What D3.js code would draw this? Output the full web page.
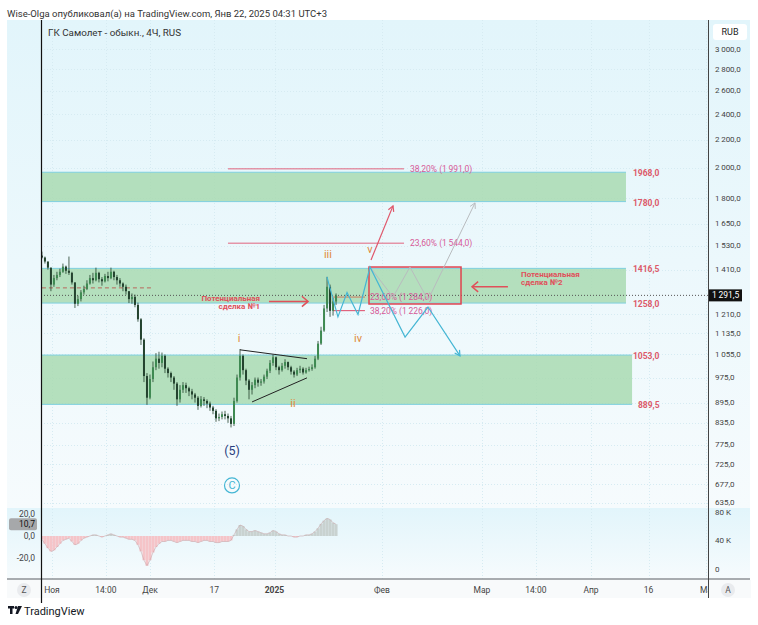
<!DOCTYPE html>
<html>
<head>
<meta charset="utf-8">
<script src="https://cdn.jsdelivr.net/npm/d3@7"></script>
<style>
body { margin: 0; background: #fff; }
text { font-family: Roboto, "Liberation Sans", sans-serif; }
</style>
</head>
<body>
<svg id="chart" width="758" height="625"></svg>
<script>
// candles (4H); open = previous close
var firstOpen = 1480;
var closes = [1470,1450,1420,1340,1370,1385,1400,1425,1405,1395,
  1350,1255,1275,1305,1320,1345,1370,1360,1395,1365,
  1355,1380,1370,1400,1375,1360,1345,1330,1310,1275,
  1285,1250,1190,1110,980,910,970,1010,1040,1025,
  1050,1005,990,975,955,905,935,950,940,930,
  920,910,885,905,900,892,880,870,848,852,
  860,855,848,832,900,975,1050,1000,965,935,
  950,968,958,962,978,998,1025,1045,1010,1000,
  1015,1028,1010,995,985,1000,1005,992,1000,1004,
  1010,1040,1095,1145,1235,1330,1225,1265,1291.5];
var highs = [1500,1475,1450,1420,1385,1400,1415,1440,1430,1475,
  1400,1350,1290,1315,1335,1360,1385,1395,1420,1400,
  1375,1390,1400,1420,1405,1385,1370,1350,1340,1310,
  1300,1295,1260,1195,1115,990,985,1030,1060,1065,
  1062,1055,1010,995,980,960,950,960,958,945,
  938,925,915,915,912,905,898,885,875,862,
  868,870,862,855,910,985,1075,1055,1005,970,
  960,975,975,970,985,1005,1035,1054,1048,1015,
  1025,1038,1030,1015,1000,1008,1015,1010,1008,1012,
  1020,1050,1105,1160,1250,1376,1340,1280,1300];
var lows = [1465,1440,1410,1310,1330,1360,1375,1395,1390,1385,
  1340,1237,1245,1265,1295,1315,1340,1345,1355,1350,
  1335,1350,1355,1365,1360,1340,1330,1310,1295,1258,
  1255,1240,1180,1090,960,888,905,960,1000,1005,
  1010,990,975,960,935,885,895,925,925,915,
  905,895,873,880,885,878,870,860,838,840,
  845,845,835,822,826,895,965,985,950,905,
  920,940,945,948,955,970,990,1015,1000,985,
  995,1005,1000,985,975,980,990,985,988,995,
  998,1005,1035,1090,1140,1220,1200,1205,1250];
var oscValues = [-3,-7,-11,-14,-13,-10,-7,-4,-3,-2,
  -5,-8,-7,-4,-2,-1,0,1,1,0,
  -1,0,1,2,1,0,-1,-1,-2,-3,
  -3,-4,-8,-14,-22,-27,-22,-15,-10,-7,
  -5,-5,-4,-4,-5,-6,-5,-4,-4,-4,
  -5,-5,-6,-5,-4,-4,-5,-5,-6,-6,
  -5,-5,-5,-4,1,6,10,9,6,4,
  4,5,4,3,2,2,3,5,4,2,
  1,1,0,0,-1,-1,0,0,1,1,
  2,4,7,11,14,16,15,12,10.7];
var firstCandle = new Date(2024, 9, 28, 22);
var lastCandle = new Date(2025, 0, 18, 18);
var lastPrice = 1291.5;

var priceTicks = [3000,2800,2600,2400,2200,2000,1800,1650,1530,1410,1210,1135,1055,975,895,835,775,725,677,635];
var oscTicks = [20, 0, -20];
var volTicks = [0, 40000, 80000];
var volLabels = ["0", "40 K", "80 K"];
var monthStarts = [new Date(2024,10,1), new Date(2024,11,1), new Date(2025,0,1), new Date(2025,1,1),
  new Date(2025,2,1), new Date(2025,3,1), new Date(2025,4,1)];
var timeTickDates = [new Date(2024,10,1), new Date(2024,10,17,12), new Date(2024,11,1), new Date(2024,11,17),
  new Date(2025,0,1), new Date(2025,1,1), new Date(2025,2,1), new Date(2025,2,16,8),
  new Date(2025,3,1), new Date(2025,3,16), new Date(2025,4,1)];
var timeTickLabels = ["Ноя","14:00","Дек","17","2025","Фев","Мар","14:00","Апр","16","Ма"];

// support / resistance zones
var zoneTop = [1968, 1416.5, 1053];
var zoneBottom = [1780, 1258, 889.5];
var zoneEnd = [new Date(2025,3,10,3), new Date(2025,3,10,3), new Date(2025,3,11,17)];

// fib levels
var fibLongLevels = [1991, 1544];
var fibLongPct = ["38,20%", "23,60%"];
var fibLongFrom = new Date(2024,11,20,10), fibLongTo = new Date(2025,1,7,4);
var fibShortLevels = [1284, 1226];
var fibShortPct = ["23,60%", "38,20%"];
var fibShortFrom = new Date(2025,0,17,21), fibShortTo = new Date(2025,0,27,2);

// drawings
var boxFrom = new Date(2025,0,28,6), boxTo = new Date(2025,1,23,3), boxHi = 1423, boxLo = 1254;
var triangleUpper = [[new Date(2024,11,23,10), 1072], [new Date(2025,0,10,9), 1040]];
var triangleLower = [[new Date(2024,11,26,10), 897], [new Date(2025,0,10,9), 974]];
var cyanPath = [[new Date(2025,0,16,3),1376],[new Date(2025,0,19,7),1200],[new Date(2025,0,21,22),1304],
  [new Date(2025,0,25,2),1210],[new Date(2025,0,28,13),1423],[new Date(2025,1,7,11),1120],
  [new Date(2025,1,13,21),1241],[new Date(2025,1,22,20),1050]];
var grayPath = [[new Date(2025,0,28,13),1423],[new Date(2025,1,4,2),1284],[new Date(2025,1,8,20),1423],
  [new Date(2025,1,13,21),1271],[new Date(2025,1,27,1),1772]];
var redArrow = [[new Date(2025,0,28,20),1458],[new Date(2025,1,4,2),1754]];
var dealArrow1 = [[new Date(2024,11,30,15),1265],[new Date(2025,0,10,16),1265]];
var dealArrow2 = [[new Date(2025,2,8,9),1330],[new Date(2025,1,26,5),1330]];
var dashedLine = [[firstCandle,1325],[new Date(2024,11,1,12),1325]];
var waveLabels = ["i","ii","iii","iv","v"];
var waveLabelPos = [[new Date(2024,11,23,4),1116],[new Date(2025,0,6,8),894],[new Date(2025,0,16,10),1488],
  [new Date(2025,0,25,2),1116],[new Date(2025,0,28,13),1512]];

var svg = d3.select("#chart");
var padL = 41, padR = 708, padT = 20, mainBottom = 508, oscBottom = 579, axisBottom = 598;

var x = d3.scaleTime().domain(monthStarts).range([52,150,274.5,382,482,591,706]);
var xBar = d3.scaleLinear().domain([0, closes.length - 1]).range([x(firstCandle), x(lastCandle)]);
var y = d3.scaleLog().domain([624, 3313]).range([mainBottom, padT]);
var yOsc = d3.scaleLinear().domain([-20, 20]).range([558, 514]);
var yVol = d3.scaleLinear().domain([0, 80000]).range([568, 511]);

var loc = d3.formatLocale({decimal: ",", thousands: "\u2009", grouping: [3], currency: ["", ""]});
var fmtAxis = loc.format(",.1f");
var fmtPlain = function (v) { return v.toFixed(1).replace(".", ","); };

var defs = svg.append("defs");
var grad = defs.append("linearGradient").attr("id", "paneBg").attr("x1", 0).attr("y1", 0).attr("x2", 0).attr("y2", 1);
grad.append("stop").attr("offset", "0%").attr("stop-color", "#e2f5fb");
grad.append("stop").attr("offset", "100%").attr("stop-color", "#f6fbfd");
defs.append("clipPath").attr("id", "mainClip").append("rect")
	.attr("x", padL).attr("y", padT).attr("width", padR - padL).attr("height", mainBottom - padT);
defs.append("clipPath").attr("id", "oscClip").append("rect")
	.attr("x", padL).attr("y", mainBottom).attr("width", padR - padL).attr("height", oscBottom - mainBottom);

// header
svg.append("text").attr("x", 7).attr("y", 16.5).attr("font-size", 9.5).attr("fill", "#333")
	.text("Wise-Olga опубликовал(а) на TradingView.com, Янв 22, 2025 04:31 UTC+3");

// backgrounds
svg.append("rect").attr("x", 7).attr("y", padT).attr("width", 743).attr("height", mainBottom - padT).attr("fill", "url(#paneBg)");
svg.append("rect").attr("x", 7).attr("y", mainBottom).attr("width", 743).attr("height", oscBottom - mainBottom).attr("fill", "url(#paneBg)");
svg.append("rect").attr("x", 7).attr("y", oscBottom).attr("width", 743).attr("height", axisBottom - oscBottom).attr("fill", "#f8fafb");

// faint grid
var grid = svg.append("g").attr("stroke", "#d6ebf2").attr("stroke-width", 1).attr("stroke-dasharray", "1,2");
grid.selectAll("line.h").data(priceTicks).enter().append("line")
	.attr("x1", padL).attr("x2", padR).attr("y1", function (d) { return Math.round(y(d)) + 0.5; }).attr("y2", function (d) { return Math.round(y(d)) + 0.5; });
grid.selectAll("line.v").data(timeTickDates.filter(function (d) { return x(d) < padR; })).enter().append("line")
	.attr("y1", padT).attr("y2", oscBottom).attr("x1", function (d) { return Math.round(x(d)) + 0.5; }).attr("x2", function (d) { return Math.round(x(d)) + 0.5; });

svg.append("text").attr("x", 48).attr("y", 36).attr("font-size", 9.8).attr("fill", "#333")
	.text("ГК Самолет - обыкн., 4Ч, RUS");

var main = svg.append("g").attr("clip-path", "url(#mainClip)");

// zones
zoneTop.forEach(function (hi, i) {
	var x0 = padL, x1 = x(zoneEnd[i]);
	main.append("rect").attr("x", x0).attr("y", y(hi)).attr("width", x1 - x0).attr("height", y(zoneBottom[i]) - y(hi))
		.attr("fill", "#a9dbb2").attr("fill-opacity", 0.85);
	[hi, zoneBottom[i]].forEach(function (p) {
		main.append("line").attr("x1", x0).attr("x2", x1).attr("y1", y(p)).attr("y2", y(p))
			.attr("stroke", "#7fd0df").attr("stroke-width", 1);
	});
});

// dashed line
main.append("line").attr("x1", x(dashedLine[0][0])).attr("x2", x(dashedLine[1][0]))
	.attr("y1", y(dashedLine[0][1])).attr("y2", y(dashedLine[1][1]))
	.attr("stroke", "#b8675c").attr("stroke-width", 1).attr("stroke-dasharray", "4,3");

// current price dotted line
main.append("line").attr("x1", padL).attr("x2", padR).attr("y1", y(lastPrice)).attr("y2", y(lastPrice))
	.attr("stroke", "#555").attr("stroke-width", 1).attr("stroke-dasharray", "1,2");

// fib lines
fibLongLevels.forEach(function (p, i) {
	main.append("line").attr("x1", x(fibLongFrom)).attr("x2", x(fibLongTo)).attr("y1", y(p)).attr("y2", y(p))
		.attr("stroke", "#e0647e").attr("stroke-width", 1);
	main.append("text").attr("x", x(fibLongTo) + 6).attr("y", y(p) + 3).attr("font-size", 8.5).attr("fill", "#d65a98")
		.text(fibLongPct[i] + " (" + fmtAxis(p) + ")");
});
fibShortLevels.forEach(function (p, i) {
	main.append("line").attr("x1", x(fibShortFrom)).attr("x2", x(fibShortTo)).attr("y1", y(p)).attr("y2", y(p))
		.attr("stroke", i === 0 ? "#c98a6e" : "#e0647e").attr("stroke-width", 1.2);
	main.append("text").attr("x", x(fibShortTo) + 5).attr("y", y(p) + 3).attr("font-size", 8.5).attr("fill", "#d65a98")
		.text(fibShortPct[i] + " (" + fmtAxis(p) + ")");
});

// candles
var candles = main.append("g");
closes.forEach(function (c, i) {
	var o = i === 0 ? firstOpen : closes[i - 1];
	var up = c >= o;
	var cx = xBar(i);
	candles.append("line").attr("x1", cx).attr("x2", cx).attr("y1", y(highs[i])).attr("y2", y(lows[i]))
		.attr("stroke", "#23402c").attr("stroke-width", 0.8);
	candles.append("rect").attr("x", cx - 1).attr("width", 2)
		.attr("y", y(Math.max(o, c))).attr("height", Math.max(0.8, Math.abs(y(o) - y(c))))
		.attr("fill", up ? "#3f8a52" : "#24432f");
});

// triangle
[triangleUpper, triangleLower].forEach(function (seg) {
	main.append("line").attr("x1", x(seg[0][0])).attr("y1", y(seg[0][1])).attr("x2", x(seg[1][0])).attr("y2", y(seg[1][1]))
		.attr("stroke", "#222").attr("stroke-width", 1);
});

var line = d3.line().x(function (d) { return x(d[0]); }).y(function (d) { return y(d[1]); });

function arrowHead(g, pts, color, len, spread, width) {
	var a = pts[pts.length - 2], b = pts[pts.length - 1];
	var x1 = x(a[0]), y1 = y(a[1]), x2 = x(b[0]), y2 = y(b[1]);
	var ang = Math.atan2(y2 - y1, x2 - x1);
	var p = [];
	[-spread, spread].forEach(function (s) {
		p.push([x2 - len * Math.cos(ang + s), y2 - len * Math.sin(ang + s)]);
	});
	g.append("path").attr("d", "M" + p[0] + "L" + [x2, y2] + "L" + p[1])
		.attr("fill", "none").attr("stroke", color).attr("stroke-width", width);
}

// red box
main.append("rect").attr("x", x(boxFrom)).attr("y", y(boxHi)).attr("width", x(boxTo) - x(boxFrom)).attr("height", y(boxLo) - y(boxHi))
	.attr("fill", "none").attr("stroke", "#e0434f").attr("stroke-width", 1.5);

// projection paths
main.append("path").attr("d", line(grayPath)).attr("fill", "none").attr("stroke", "#b9bcbf").attr("stroke-width", 1);
arrowHead(main, grayPath, "#b9bcbf", 6, 0.5, 1);
main.append("path").attr("d", line(cyanPath)).attr("fill", "none").attr("stroke", "#45b6d4").attr("stroke-width", 1.2);
arrowHead(main, cyanPath, "#45b6d4", 6, 0.5, 1.2);
main.append("path").attr("d", line(redArrow)).attr("fill", "none").attr("stroke", "#e0566a").attr("stroke-width", 1.2);
arrowHead(main, redArrow, "#e0566a", 6, 0.5, 1.2);

// deal arrows
[dealArrow1, dealArrow2].forEach(function (a) {
	main.append("path").attr("d", line(a)).attr("fill", "none").attr("stroke", "#e0505a").attr("stroke-width", 1.5);
	arrowHead(main, a, "#e0505a", 8, 0.7, 1.5);
});
var deal1X = x(new Date(2024,11,28,10)), deal2X = x(new Date(2025,2,12,2));
var dealText1 = main.append("text").attr("font-size", 8).attr("font-weight", "bold")
	.attr("fill", "#e0505a").attr("text-anchor", "end");
dealText1.append("tspan").attr("x", deal1X).attr("y", y(1265) - 0.5).text("Потенциальная");
dealText1.append("tspan").attr("x", deal1X).attr("y", y(1265) + 7.5).text("сделка №1");
var dealText2 = main.append("text").attr("font-size", 8).attr("font-weight", "bold").attr("fill", "#e0505a");
dealText2.append("tspan").attr("x", deal2X).attr("y", y(1330) - 10).text("Потенциальная");
dealText2.append("tspan").attr("x", deal2X).attr("y", y(1330) - 2).text("сделка №2");

// wave labels
waveLabels.forEach(function (t, i) {
	main.append("text").attr("x", x(waveLabelPos[i][0])).attr("y", y(waveLabelPos[i][1]) + 4)
		.attr("text-anchor", "middle").attr("font-size", 11).attr("fill", "#e08a3c").text(t);
});
var cX = x(new Date(2024,11,21,10));
main.append("text").attr("x", cX).attr("y", y(762) + 5).attr("text-anchor", "middle")
	.attr("font-size", 12.5).attr("fill", "#2b3f80").text("(5)");
main.append("circle").attr("cx", cX).attr("cy", y(674)).attr("r", 7.5)
	.attr("fill", "none").attr("stroke", "#45b6d4").attr("stroke-width", 1.2);
main.append("text").attr("x", cX).attr("y", y(674) + 4).attr("text-anchor", "middle")
	.attr("font-size", 11).attr("fill", "#45b6d4").text("C");

// zone labels
zoneTop.forEach(function (hi, i) {
	[hi, zoneBottom[i]].forEach(function (p, j) {
		var lx = x(zoneEnd[0]) + 7 + (i === 2 && j === 1 ? 5 : 0);
		svg.append("text").attr("x", lx).attr("y", y(p) + 4).attr("font-size", 8.5).attr("font-weight", "bold")
			.attr("fill", "#dc5a6a").text(fmtPlain(p));
	});
});

// oscillator
var osc = svg.append("g").attr("clip-path", "url(#oscClip)");
oscValues.forEach(function (v, i) {
	osc.append("rect").attr("x", xBar(i) - 1.5).attr("width", 3)
		.attr("y", Math.min(yOsc(v), yOsc(0))).attr("height", Math.abs(yOsc(v) - yOsc(0)))
		.attr("fill", v < 0 ? "#f5c4c8" : "#c9d2d0");
});
osc.append("path").datum(oscValues)
	.attr("d", d3.line().x(function (d, i) { return xBar(i); }).y(function (d) { return yOsc(d); }))
	.attr("fill", "none").attr("stroke", "#c9a7ab").attr("stroke-width", 0.6);

// left oscillator axis
oscTicks.forEach(function (t) {
	svg.append("text").attr("x", 35).attr("y", yOsc(t) + 3).attr("text-anchor", "end").attr("font-size", 8.5).attr("fill", "#444")
		.text(fmtPlain(t));
});
var lastOsc = oscValues[oscValues.length - 1];
svg.append("rect").attr("x", 9).attr("y", yOsc(lastOsc) - 6).attr("width", 28).attr("height", 12).attr("rx", 2).attr("fill", "#a6a8aa");
svg.append("text").attr("x", 35).attr("y", yOsc(lastOsc) + 3).attr("text-anchor", "end").attr("font-size", 8.5).attr("fill", "#111")
	.text(fmtPlain(lastOsc));

// right price axis
priceTicks.forEach(function (t) {
	svg.append("text").attr("x", 715).attr("y", y(t) + 2.5).attr("font-size", 8).attr("fill", "#444").text(fmtAxis(t));
});
volTicks.forEach(function (t, i) {
	svg.append("text").attr("x", 715).attr("y", yVol(t) + 3.5).attr("font-size", 8).attr("fill", "#444").text(volLabels[i]);
});
svg.append("rect").attr("x", 713).attr("y", 24).attr("width", 34).attr("height", 16).attr("rx", 3).attr("fill", "#fff");
svg.append("text").attr("x", 730).attr("y", 35).attr("text-anchor", "middle").attr("font-size", 9).attr("fill", "#222").text("RUB");
svg.append("rect").attr("x", 709).attr("y", y(lastPrice) - 6).attr("width", 33).attr("height", 12).attr("fill", "#111");
svg.append("text").attr("x", 712).attr("y", y(lastPrice) + 3).attr("font-size", 8.5).attr("fill", "#fff").text(fmtAxis(lastPrice));

// time axis
svg.append("line").attr("x1", 7).attr("x2", 750).attr("y1", oscBottom).attr("y2", oscBottom).attr("stroke", "#8e9296").attr("stroke-width", 1.5);
timeTickDates.forEach(function (d, i) {
	svg.append("text").attr("x", x(d)).attr("y", 593).attr("text-anchor", "middle").attr("font-size", 8.5)
		.attr("font-weight", timeTickLabels[i] === "2025" ? "bold" : "normal").attr("fill", "#444").text(timeTickLabels[i]);
});
svg.append("rect").attr("x", padR + 1).attr("y", oscBottom + 1).attr("width", 42).attr("height", 18).attr("fill", "#f8fafb");
[[24, "Z"], [728, "A"]].forEach(function (b) {
	svg.append("circle").attr("cx", b[0]).attr("cy", 590).attr("r", 7).attr("fill", "#e9ebee");
	svg.append("text").attr("x", b[0]).attr("y", 593).attr("text-anchor", "middle").attr("font-size", 8.5).attr("fill", "#555").text(b[1]);
});

// frame lines
svg.append("line").attr("x1", padR + 0.5).attr("x2", padR + 0.5).attr("y1", padT).attr("y2", axisBottom).attr("stroke", "#444").attr("stroke-width", 1);
svg.append("line").attr("x1", padL + 0.5).attr("x2", padL + 0.5).attr("y1", padT).attr("y2", axisBottom + 5).attr("stroke", "#111").attr("stroke-width", 1.2);

// footer logo
var logo = svg.append("g").attr("transform", "translate(8,606)").attr("fill", "#131722");
logo.append("rect").attr("x", 0).attr("y", 0).attr("width", 6).attr("height", 2.5);
logo.append("rect").attr("x", 2).attr("y", 0).attr("width", 2.5).attr("height", 8);
logo.append("circle").attr("cx", 8).attr("cy", 1.5).attr("r", 1.5);
logo.append("path").attr("d", "M10,0 L14,0 L10,8 L7.5,8 Z");
svg.append("text").attr("x", 24).attr("y", 614.5).attr("font-size", 11).attr("fill", "#131722").text("TradingView");
</script>
</body>
</html>
